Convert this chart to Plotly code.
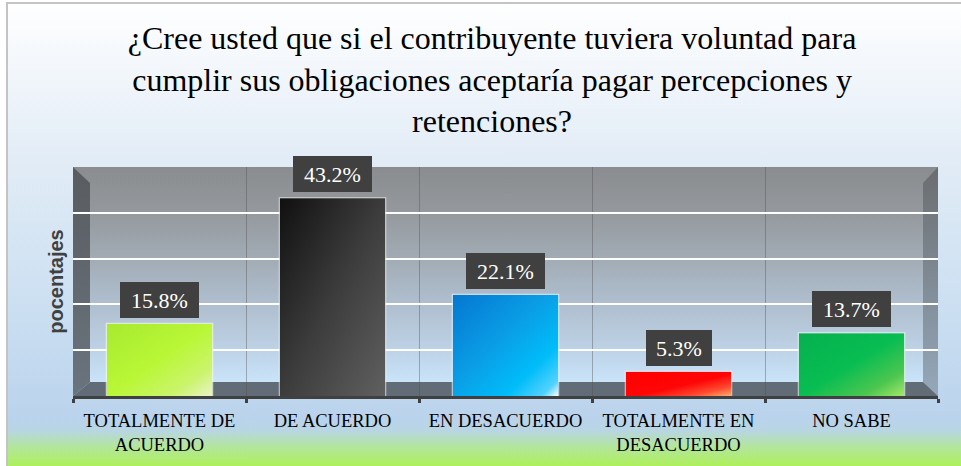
import base64
import plotly.graph_objects as go

# ---------------- data ----------------
categories = ["TOTALMENTE DE<br>ACUERDO", "DE ACUERDO", "EN DESACUERDO",
              "TOTALMENTE EN<br>DESACUERDO", "NO SABE"]
values = [15.8, 43.2, 22.1, 5.3, 13.7]
bar_colors = ["#b9f536", "#3b3b3b", "#07a4ea", "#ff1206", "#0cba52"]
title_text = ("¿Cree usted que si el contribuyente tuviera voluntad para<br>"
              "cumplir sus obligaciones aceptaría pagar percepciones y<br>retenciones?")
y_title = "pocentajes"

# diagonal shading stops for each bar (style only)
bar_shades = [
    [(0, "#a8ea30"), (0.5, "#b9f736"), (0.8, "#cbf46c"), (1, "#eaf2c8")],
    [(0, "#101010"), (0.5, "#3c3c3c"), (1, "#606060")],
    [(0, "#0477d0"), (0.45, "#0a9ee6"), (0.75, "#00bdf9"), (0.92, "#52d2ff"), (1, "#ffffff")],
    [(0, "#ff0000"), (0.55, "#ff0606"), (0.8, "#ff4a30"), (1, "#ffb070")],
    [(0, "#05b04f"), (0.5, "#08bd52"), (0.8, "#4cc650"), (1, "#a6e86a")],
]

SERIF = "'Liberation Serif', 'Times New Roman', serif"
BAR_W = 0.61

# ---------------- geometry (pixels) ----------------
W, H = 961, 466
L, R, T, B = 73, 938, 167, 396
PW, PH = R - L, B - T


def pxx(x):
    return (x - L) / PW


def pxy(y):
    return (B - y) / PH


def data_uri(svg_text):
    return "data:image/svg+xml;base64," + base64.b64encode(svg_text.encode("utf-8")).decode()


# background picture (gradients for chart area, back wall, side walls, floor)
svg = f'''<svg xmlns="http://www.w3.org/2000/svg" width="{W}" height="{H}" viewBox="0 0 {W} {H}">
<defs>
<linearGradient id="bg" gradientUnits="userSpaceOnUse" x1="0" y1="0" x2="0" y2="{H}">
<stop offset="0" stop-color="#ffffff"/>
<stop offset="0.34" stop-color="#e2ecf6"/>
<stop offset="0.64" stop-color="#cde0f2"/>
<stop offset="0.90" stop-color="#bad3ec"/>
<stop offset="0.925" stop-color="#b8d6e2"/>
<stop offset="0.96" stop-color="#b3e69a"/>
<stop offset="1" stop-color="#aef05c"/>
</linearGradient>
<linearGradient id="wall" gradientUnits="userSpaceOnUse" x1="0" y1="{T}" x2="0" y2="382">
<stop offset="0" stop-color="#8a8c8f"/>
<stop offset="0.2" stop-color="#94989c"/>
<stop offset="0.4" stop-color="#a0a9b2"/>
<stop offset="0.6" stop-color="#adbbca"/>
<stop offset="0.8" stop-color="#bacde0"/>
<stop offset="1" stop-color="#c9e3f9"/>
</linearGradient>
<linearGradient id="lw" gradientUnits="userSpaceOnUse" x1="0" y1="{T}" x2="0" y2="{B}">
<stop offset="0" stop-color="#595c60"/>
<stop offset="1" stop-color="#6a747e"/>
</linearGradient>
<linearGradient id="rw" gradientUnits="userSpaceOnUse" x1="0" y1="{T}" x2="0" y2="{B}">
<stop offset="0" stop-color="#6a6d70"/>
<stop offset="1" stop-color="#95a8ba"/>
</linearGradient>
</defs>
<rect x="0" y="0" width="{W}" height="{H}" fill="#ffffff"/>
<rect x="7" y="3" width="{W}" height="{H}" fill="url(#bg)"/>
<polyline points="7,{H} 7,3 {W},3" fill="none" stroke="#c4c4c4" stroke-width="2"/>
<rect x="{L}" y="{T}" width="{PW}" height="{382 - T}" fill="url(#wall)"/>
<polygon points="{L},{T} 90,183 90,382 {L},{B}" fill="url(#lw)"/>
<polygon points="{R},{T} 923,183 923,382 {R},{B}" fill="url(#rw)"/>
<polygon points="{L},{B} 90,382 923,382 {R},{B}" fill="#626c77"/>
</svg>'''

fig = go.Figure()
fig.add_trace(go.Bar(
    x=categories, y=values, width=BAR_W,
    marker=dict(color=bar_colors, line=dict(color="rgba(255,255,255,0.6)", width=2)),
    hoverinfo="x+y", showlegend=False,
))

fig.add_layout_image(dict(
    source=data_uri(svg), xref="paper", yref="paper",
    x=pxx(0), y=pxy(0), sizex=W / PW, sizey=H / PH,
    xanchor="left", yanchor="top", sizing="stretch", layer="below",
))

# diagonal shading laid over each bar, placed through the axes from the data
for i, (v, stops) in enumerate(zip(values, bar_shades)):
    stop_txt = "".join(f'<stop offset="{o}" stop-color="{c}"/>' for o, c in stops)
    bsvg = ('<svg xmlns="http://www.w3.org/2000/svg" width="100" height="100" '
            'viewBox="0 0 100 100" preserveAspectRatio="none"><defs>'
            f'<linearGradient id="g" x1="0" y1="0" x2="1" y2="1">{stop_txt}</linearGradient>'
            '</defs><rect x="0" y="0" width="100" height="100" fill="url(#g)"/></svg>')
    fig.add_layout_image(dict(
        source=data_uri(bsvg), xref="x", yref="y",
        x=i - BAR_W / 2, y=v, sizex=BAR_W, sizey=v,
        xanchor="left", yanchor="top", sizing="stretch", layer="above",
    ))

labels = [f"{v:.1f}%" for v in values]
for c, v, t in zip(categories, values, labels):
    fig.add_annotation(
        x=c, y=v, xref="x", yref="y", text=t, showarrow=False,
        yanchor="bottom", yshift=6, bgcolor="#404040",
        borderpad=0, borderwidth=0, width=13 * len(t) + 14, height=36,
        font=dict(family=SERIF, size=22, color="#ffffff"),
    )

fig.update_layout(
    width=W, height=H,
    margin=dict(l=L, r=W - R, t=T, b=H - B, autoexpand=False),
    paper_bgcolor="#ffffff", plot_bgcolor="rgba(0,0,0,0)",
    title=dict(text=title_text, x=0.512, xanchor="center", y=1 - 49 / H, yanchor="top",
               font=dict(family=SERIF, size=32, color="#000000")),
    bargap=0.39,
    font=dict(family=SERIF, color="#000000"),
)
fig.update_xaxes(
    type="category", tickson="boundaries", ticks="outside", ticklen=4, tickwidth=3,
    tickcolor="#404040", showline=True, linecolor="#404040", linewidth=3,
    showgrid=True, gridcolor="rgba(80,80,80,0.4)", gridwidth=1,
    ticklabelstandoff=6,
    tickfont=dict(family=SERIF, size=18.5, color="#000000"),
    fixedrange=True,
)
fig.update_yaxes(
    range=[0, 50], dtick=10, tick0=0, showticklabels=False, ticks="",
    showgrid=True, gridcolor="#ffffff", gridwidth=2, zeroline=False, showline=False,
    title=dict(text=f"<b>{y_title}</b>", standoff=3,
               font=dict(family="'Liberation Sans', Arial, sans-serif", size=20, color="#404040")),
    fixedrange=True,
)

fig.write_html("out.html", config={"displayModeBar": False},
               post_script="document.body.style.margin='0';document.body.style.padding='0';")
